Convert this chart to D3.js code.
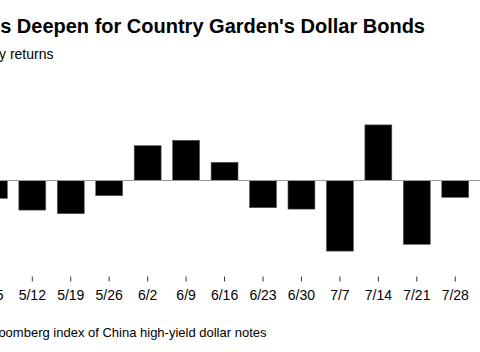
<!DOCTYPE html>
<html>
<head>
<meta charset="utf-8">
<script src="https://cdn.jsdelivr.net/npm/d3@7"></script>
<style>
  html, body { margin: 0; padding: 0; background: #fff; overflow: hidden; }
  svg { display: block; font-family: "Liberation Sans", Arial, sans-serif; }
</style>
</head>
<body>
<div id="frame"></div>
<script>
// VARIABLES
const width = 480;
const height = 352;

// data: weekly returns (%) of the index
const weeks = ["5/5", "5/12", "5/19", "5/26", "6/2", "6/9", "6/16", "6/23", "6/30", "7/7", "7/14", "7/21", "7/28"];
const returns = [-0.89, -1.48, -1.66, -0.76, 1.74, 2.01, 0.91, -1.36, -1.43, -3.53, 2.78, -3.19, -0.84];

// texts
const title = "Losses Deepen for Country Garden's Dollar Bonds";
const subtitle = "Weekly returns";
const source = "Source: Bloomberg index of China high-yield dollar notes";

const svg = d3.select("#frame")
    .append("svg")
        .attr("width", width)
        .attr("height", height)
        .attr("viewBox", [0, 0, width, height]);

// scales (chart is cropped on the left, so the band range starts off-canvas)
const step = 38.45;
const x = d3.scaleBand()
    .domain(weeks)
    .range([32.3 - 1.5 * step, 32.3 - 1.5 * step + step * weeks.length])
    .paddingInner(0.3)
    .paddingOuter(0.15);

const y = d3.scaleLinear()
    .domain([-4, 4])
    .range([260.5, 100.5]);

// title and subtitle
svg.append("text")
    .attr("x", 425)
    .attr("y", 33)
    .attr("text-anchor", "end")
    .attr("font-size", 20)
    .attr("font-weight", "bold")
    .attr("fill", "#000")
    .text(title);

svg.append("text")
    .attr("x", 53.5)
    .attr("y", 58.5)
    .attr("text-anchor", "end")
    .attr("font-size", 14)
    .attr("fill", "#000")
    .text(subtitle);

// bars
svg.append("g")
        .attr("class", "bars")
    .selectAll("rect")
    .data(weeks)
    .enter()
    .append("rect")
        .attr("x", d => x(d))
        .attr("width", x.bandwidth())
        .attr("y", (d, i) => Math.min(y(returns[i]), y(0)))
        .attr("height", (d, i) => Math.abs(y(returns[i]) - y(0)))
        .attr("fill", "#000")
        .attr("stroke", "#555")
        .attr("stroke-width", 0.6);

// zero line
svg.append("line")
    .attr("x1", 0)
    .attr("x2", width)
    .attr("y1", y(0))
    .attr("y2", y(0))
    .attr("stroke", "#9a9a9a")
    .attr("stroke-width", 1.2);

// x axis
const xAxis = d3.axisBottom(x).tickSize(5).tickPadding(9);
const gx = svg.append("g")
    .attr("transform", "translate(0,276.5)")
    .call(xAxis);
gx.select(".domain").remove();
gx.selectAll(".tick line").attr("stroke", "#000").attr("stroke-width", 0.8);
gx.selectAll(".tick text")
    .attr("font-size", 14)
    .attr("font-family", "Liberation Sans, Arial, sans-serif")
    .attr("fill", "#000");

// source
svg.append("text")
    .attr("x", 266.5)
    .attr("y", 337)
    .attr("text-anchor", "end")
    .attr("font-size", 13)
    .attr("fill", "#000")
    .text(source);
</script>
</body>
</html>
